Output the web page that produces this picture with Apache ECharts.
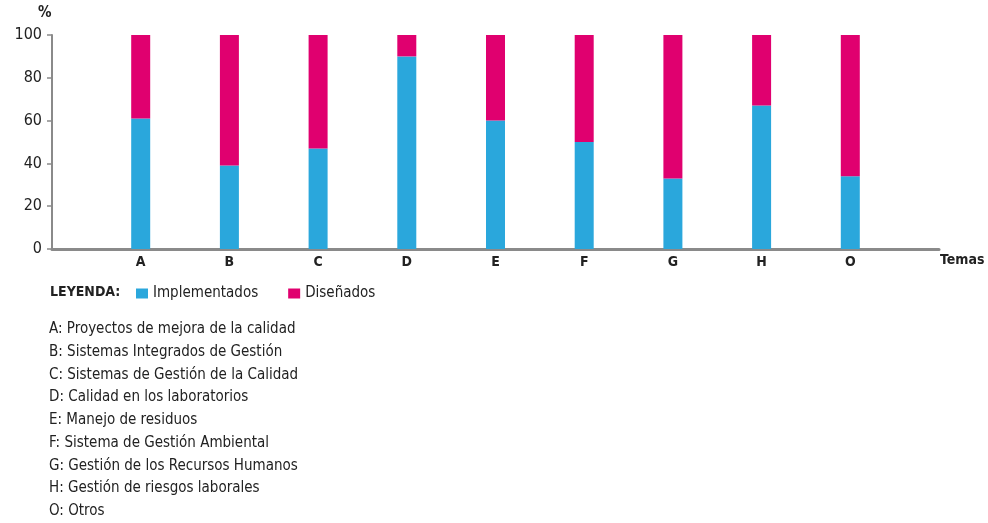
<!DOCTYPE html>
<html>
<head>
<meta charset="utf-8">
<script src="https://cdn.jsdelivr.net/npm/echarts@6/dist/echarts.min.js"></script>
<style>
  html, body { margin: 0; padding: 0; background: #fff; }
  #main { width: 988px; height: 523px; }
</style>
</head>
<body>
<div id="main"></div>
<script>
// blank slots at both ends keep the bars off the axis ends
const temas = ['', 'A', 'B', 'C', 'D', 'E', 'F', 'G', 'H', 'O', ''];
const implementados = ['-', 61, 39, 47, 90, 60, 50, 33, 67, 34, '-'];
const disenados = ['-', 39, 61, 53, 10, 40, 50, 67, 33, 66, '-'];
const yTicks = [0, 20, 40, 60, 80, 100];
const leyenda = [
    'A: Proyectos de mejora de la calidad',
    'B: Sistemas Integrados de Gestión',
    'C: Sistemas de Gestión de la Calidad',
    'D: Calidad en los laboratorios',
    'E: Manejo de residuos',
    'F: Sistema de Gestión Ambiental',
    'G: Gestión de los Recursos Humanos',
    'H: Gestión de riesgos laborales',
    'O: Otros'
];

const FONT = '"Liberation Sans Narrow", "DejaVu Sans Condensed", sans-serif';
const BLUE = '#2aa7dc';
const PINK = '#e0006f';
const AXIS = '#8a8a8a';

const listText = leyenda.map((t, i) => ({
    type: 'text',
    left: 49,
    top: 322 + i * 22.7,
    style: { text: t, fill: '#222', font: '15px ' + FONT }
}));

const myChart = echarts.init(document.getElementById('main'));
myChart.setOption({
    animation: false,
    grid: { left: 52, right: 49, top: 35, bottom: 274 },
    xAxis: {
        type: 'category',
        data: temas,
        boundaryGap: false,
        axisLine: { lineStyle: { color: AXIS, width: 3 } },
        axisTick: { show: false },
        axisLabel: { color: '#222', fontFamily: FONT, fontWeight: 'bold', fontSize: 14, margin: 6 },
        splitLine: { show: false }
    },
    yAxis: {
        type: 'value',
        min: yTicks[0],
        max: yTicks[yTicks.length - 1],
        interval: 20,
        axisLine: { show: true, lineStyle: { color: AXIS, width: 2 } },
        axisTick: { show: true, length: 5, lineStyle: { color: AXIS, width: 1.5 } },
        axisLabel: { color: '#222', fontFamily: FONT, fontSize: 16, margin: 10 },
        splitLine: { show: false }
    },
    legend: {
        left: 131,
        top: 281,
        itemWidth: 12,
        itemHeight: 10,
        itemGap: 30,
        icon: 'rect',
        textStyle: { color: '#222', fontFamily: FONT, fontSize: 15 },
        data: ['Implementados', 'Diseñados']
    },
    series: [
        {
            name: 'Implementados',
            type: 'bar',
            stack: 'total',
            barWidth: 19,
            itemStyle: { color: BLUE },
            data: implementados
        },
        {
            name: 'Diseñados',
            type: 'bar',
            stack: 'total',
            barWidth: 19,
            itemStyle: { color: PINK },
            data: disenados
        }
    ],
    graphic: [
        { type: 'text', left: 38, top: 6, style: { text: '%', fill: '#222', font: 'bold 15px ' + FONT } },
        { type: 'text', left: 940, top: 253, style: { text: 'Temas', fill: '#222', font: 'bold 14px ' + FONT } },
        { type: 'text', left: 50, top: 285, style: { text: 'LEYENDA:', fill: '#222', font: 'bold 14px ' + FONT } }
    ].concat(listText)
});
</script>
</body>
</html>
